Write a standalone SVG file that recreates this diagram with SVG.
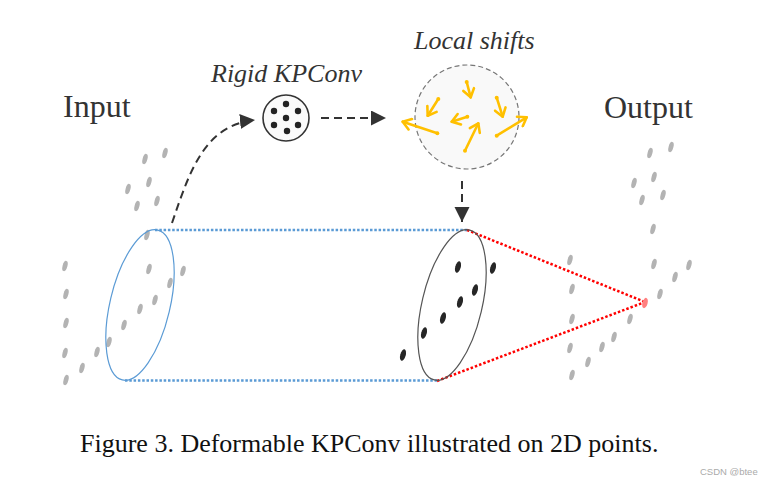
<svg xmlns="http://www.w3.org/2000/svg" xmlns:xlink="http://www.w3.org/1999/xlink" width="770" height="483" viewBox="0 0 770 483">
<style>
.lbl{font-family:"Liberation Serif",serif;fill:#333}
.ital{font-family:"Liberation Serif",serif;font-style:italic;fill:#333;font-size:26px}
.dash{fill:none;stroke:#333;stroke-width:2;stroke-dasharray:8 5}
.sh{fill:none;stroke:#FFC000;stroke-width:2.6;stroke-linecap:round;marker-end:url(#oa);marker-start:url(#od)}
.gd{fill:#b3b3b3}
.bd{fill:#262626}
</style>
<defs>
<marker id="da" markerUnits="userSpaceOnUse" markerWidth="16" markerHeight="16" refX="15" refY="7.5" orient="auto" viewBox="0 0 16 16">
<path d="M0,0 L15,7.5 L0,15 z" fill="#333"/>
</marker>
<marker id="oa" markerUnits="userSpaceOnUse" markerWidth="14" markerHeight="14" refX="10" refY="7" orient="auto" viewBox="0 0 14 14">
<path d="M2,1.5 L10,7 L2,12.5" fill="none" stroke="#FFC000" stroke-width="2.6" stroke-linecap="round" stroke-linejoin="round"/>
</marker>
<marker id="od" markerUnits="userSpaceOnUse" markerWidth="6" markerHeight="6" refX="3" refY="3" viewBox="0 0 6 6">
<circle cx="3" cy="3" r="2" fill="#FFC000"/>
</marker>
<ellipse id="g" cx="0" cy="0" rx="2.4" ry="5.3" transform="rotate(15)"/>
<ellipse id="b" cx="0" cy="0" rx="2.7" ry="6" transform="rotate(15)"/>
</defs>

<g id="connectors">
<path class="dash" d="M172,223 C190,170 205,125 255,120" marker-end="url(#da)"/>
<path class="dash" d="M321,118 L386,118" marker-end="url(#da)"/>
<path class="dash" d="M462,181 L462,222" marker-end="url(#da)"/>
<line x1="155" y1="230" x2="467" y2="230" stroke="#5b9bd5" stroke-width="2.5" stroke-dasharray="2.5 1.8"/>
<line x1="125" y1="380.5" x2="437" y2="380.5" stroke="#5b9bd5" stroke-width="2.5" stroke-dasharray="2.5 1.8"/>
<line x1="467" y1="230" x2="645" y2="302" stroke="#ff0000" stroke-width="2.5" stroke-dasharray="2.5 2"/>
<line x1="437" y1="381" x2="645" y2="302" stroke="#ff0000" stroke-width="2.5" stroke-dasharray="2.5 2"/>
</g>

<g id="input">
<text class="lbl" x="63" y="117" font-size="32">Input</text>
<g class="gd">
<use href="#g" x="145" y="159"/><use href="#g" x="165" y="153"/>
<use href="#g" x="128" y="189"/><use href="#g" x="149" y="182"/>
<use href="#g" x="137" y="206"/><use href="#g" x="157" y="201"/>
<use href="#g" x="147" y="235"/>
<use href="#g" x="65" y="266"/><use href="#g" x="149" y="269"/><use href="#g" x="183" y="271"/>
<use href="#g" x="66" y="294"/><use href="#g" x="170" y="283"/>
<use href="#g" x="155" y="300"/><use href="#g" x="140" y="309"/>
<use href="#g" x="66" y="323"/><use href="#g" x="124" y="325"/>
<use href="#g" x="109" y="342"/>
<use href="#g" x="65" y="353"/><use href="#g" x="97" y="352"/>
<use href="#g" x="82" y="368"/>
<use href="#g" x="66" y="380"/>
</g>
<ellipse cx="140" cy="305" rx="30" ry="77" transform="rotate(13.3 140 305)" fill="none" stroke="#5b9bd5" stroke-width="1.2"/>
</g>

<g id="rigid-kpconv">
<text class="ital" x="211" y="82">Rigid KPConv</text>
<circle cx="286" cy="118" r="23" fill="#fafafa" stroke="#333" stroke-width="1.6"/>
<g fill="#222">
<circle cx="286" cy="104" r="3.2"/><circle cx="274" cy="111" r="3.2"/><circle cx="298" cy="111" r="3.2"/>
<circle cx="286" cy="118" r="3.2"/><circle cx="274" cy="125" r="3.2"/><circle cx="298" cy="125" r="3.2"/>
<circle cx="287" cy="131" r="3.2"/>
</g>
</g>

<g id="local-shifts">
<text class="ital" x="414" y="49">Local shifts</text>
<circle cx="467" cy="117" r="52" fill="#f9f9f9" stroke="#777" stroke-width="1.2" stroke-dasharray="5 3"/>
<path class="sh" d="M466.7,82 L470.7,97.3"/>
<path class="sh" d="M438.3,99 L427.7,115.7"/>
<path class="sh" d="M496.7,97.7 L502.7,116.7"/>
<path class="sh" d="M467.3,116.7 L451.7,121.7"/>
<path class="sh" d="M437.3,133.3 L402.7,121.7"/>
<path class="sh" d="M465,150.7 L478.3,123.3"/>
<path class="sh" d="M496.7,135.7 L526.7,117.3"/>
</g>

<g id="deformed">
<ellipse cx="452" cy="305" rx="30" ry="77" transform="rotate(13.3 452 305)" fill="none" stroke="#555" stroke-width="1.2"/>
<g class="bd">
<use href="#b" x="458" y="267"/><use href="#b" x="493" y="268"/>
<use href="#b" x="475" y="290"/><use href="#b" x="460" y="302"/>
<use href="#b" x="443" y="318"/><use href="#b" x="424" y="333"/>
<use href="#b" x="403" y="355"/>
</g>
</g>

<g id="output">
<text class="lbl" x="604" y="118" font-size="32">Output</text>
<g class="gd">
<use href="#g" x="650" y="153"/><use href="#g" x="671" y="147"/>
<use href="#g" x="634" y="183"/><use href="#g" x="654" y="177"/>
<use href="#g" x="642" y="200"/><use href="#g" x="663" y="195"/>
<use href="#g" x="653" y="229"/>
<use href="#g" x="570" y="260"/><use href="#g" x="654" y="264"/><use href="#g" x="689" y="265"/>
<use href="#g" x="572" y="289"/><use href="#g" x="675" y="277"/>
<use href="#g" x="660" y="294"/>
<use href="#g" x="572" y="319"/><use href="#g" x="630" y="319"/>
<use href="#g" x="614" y="337"/>
<use href="#g" x="570" y="348"/><use href="#g" x="602" y="347"/>
<use href="#g" x="588" y="362"/>
<use href="#g" x="572" y="375"/>
</g>
<ellipse cx="645" cy="303" rx="2.6" ry="5.3" transform="rotate(15 645 303)" fill="#ff8080"/>
</g>

<g id="caption">
<text x="80" y="452" font-family="'Liberation Serif',serif" font-size="26" fill="#111">Figure 3. Deformable KPConv illustrated on 2D points.</text>
<text x="700" y="475" font-family="'Liberation Sans',sans-serif" font-size="9.5" fill="#aaa">CSDN @btee</text>
</g>
</svg>
